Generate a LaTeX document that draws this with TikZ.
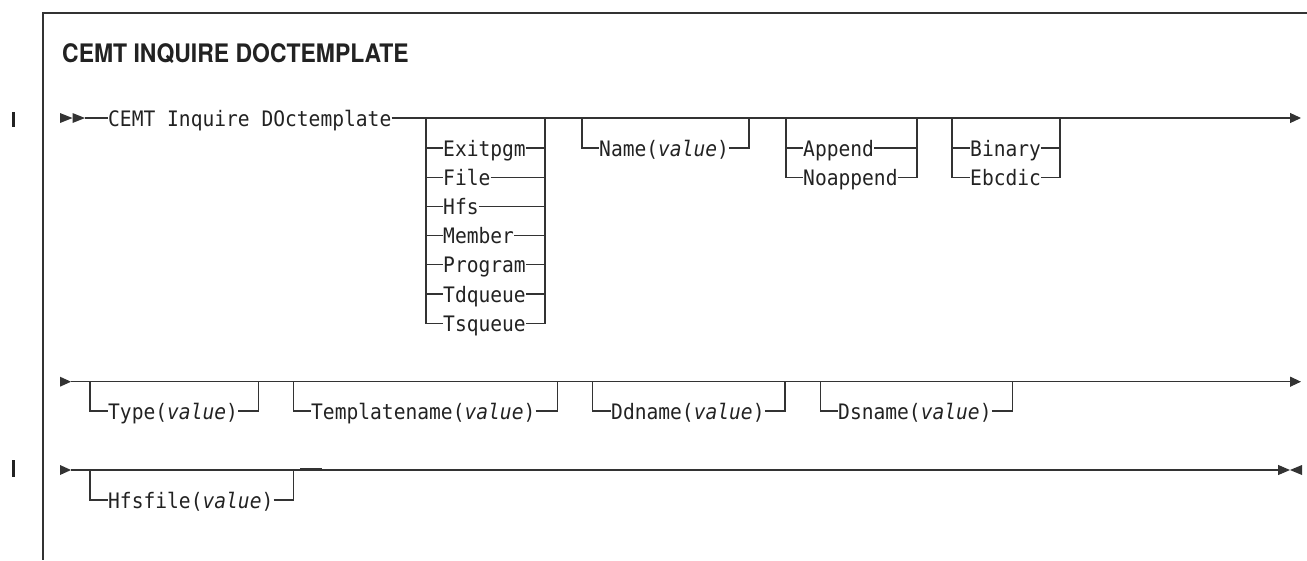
\documentclass[tikz,border=0pt]{standalone}
\usepackage{fontspec}
\newfontfamily\headfamily[FakeStretch=0.9]{TeX Gyre Heros}
\newfontfamily\kwfamily[FakeStretch=0.92]{DejaVu Sans Mono}
\usetikzlibrary{arrows.meta}
\definecolor{ln}{HTML}{333333}
\definecolor{tx}{HTML}{222222}
\begin{document}
\begin{tikzpicture}[x=1pt,y=-1pt,
  kw/.style={font=\kwfamily\fontsize{21.3}{24}\selectfont, inner sep=0pt,
    text height=16pt, text depth=0pt, anchor=west, text=tx},
  rail/.style={draw=ln, line width=1.2pt},
  endtip/.style={rail, -{Triangle[length=11pt,width=10pt]}},
  frame/.style={draw=ln, line width=1.3pt},
  chg/.style={draw=tx, line width=3pt},
  headline/.style={font=\headfamily\bfseries\fontsize{25.5}{30}\selectfont, text=tx,
    inner sep=0pt, anchor=base west},
]
\useasboundingbox (0,0) rectangle (1307,560);

% frame
\coordinate (fTR) at (1307,13);
\coordinate (fTL) at (43,13);
\coordinate (fBL) at (43,560);
\draw[frame] (fTR) -- (fTL) -- (fBL);

% title
\node[headline] (title) at (62,62) {CEMT INQUIRE DOCTEMPLATE};

% change bars
\draw[chg] (13,112) -- (13,127);
\draw[chg] (13,460) -- (13,477);

% ---------------- row 1 ----------------
\coordinate (r1s) at (60,118);
\fill[ln] (r1s) ++(0,-5) -- ++(12.5,5) -- ++(-12.5,5) -- cycle;
\fill[ln] (r1s) ++(12.5,-5) -- ++(12.5,5) -- ++(-12.5,5) -- cycle;
\coordinate (r1a) at (85,118);
\node[kw] (cemt) at (108,118) {CEMT Inquire DOctemplate};
\draw[rail] (r1a) -- (cemt.west);
\coordinate (r1e) at (1301,118);
\draw[endtip] (cemt.east) -- (r1e);

% group 1
\coordinate (g1l) at (426,118);
\coordinate (g1r) at (545,118);
\foreach \w [count=\i from 0] in {Exitpgm,File,Hfs,Member,Program,Tdqueue,Tsqueue}{
  \node[kw] (g1i\i) at (443,148+29.2*\i) {\w};
}
\foreach \i in {0,...,5}{
  \draw[rail] (g1l |- g1i\i.west) -- (g1i\i.west);
  \draw[rail] (g1i\i.east) -- (g1r |- g1i\i.east);
}
\draw[rail] (g1l) -- (g1l |- g1i6.west) -- (g1i6.west);
\draw[rail] (g1i6.east) -- (g1r |- g1i6.east) -- (g1r);

% group 2
\coordinate (g2l) at (582,118);
\coordinate (g2r) at (749,118);
\node[kw] (name) at (599,148) {Name(\textit{value})};
\draw[rail] (g2l) -- (g2l |- name.west) -- (name.west);
\draw[rail] (name.east) -- (g2r |- name.east) -- (g2r);

% group 3
\coordinate (g3l) at (786,118);
\coordinate (g3r) at (917,118);
\node[kw] (app) at (803,148) {Append};
\node[kw] (noapp) at (803,177.2) {Noappend};
\draw[rail] (g3l |- app.west) -- (app.west);
\draw[rail] (app.east) -- (g3r |- app.east);
\draw[rail] (g3l) -- (g3l |- noapp.west) -- (noapp.west);
\draw[rail] (noapp.east) -- (g3r |- noapp.east) -- (g3r);

% group 4
\coordinate (g4l) at (952,118);
\coordinate (g4r) at (1060,118);
\node[kw] (bin) at (970,148) {Binary};
\node[kw] (ebc) at (970,177.2) {Ebcdic};
\draw[rail] (g4l |- bin.west) -- (bin.west);
\draw[rail] (bin.east) -- (g4r |- bin.east);
\draw[rail] (g4l) -- (g4l |- ebc.west) -- (ebc.west);
\draw[rail] (ebc.east) -- (g4r |- ebc.east) -- (g4r);

% ---------------- row 2 ----------------
\coordinate (r2s) at (60,381.7);
\fill[ln] (r2s) ++(0,-5) -- ++(11,5) -- ++(-11,5) -- cycle;
\coordinate (r2a) at (71,381.7);
\coordinate (r2e) at (1301,381.7);
\draw[endtip] (r2a) -- (r2e);

\coordinate (tyl) at (90,381.7);
\coordinate (tyr) at (258.3,381.7);
\node[kw] (type) at (108,411) {Type(\textit{value})};
\draw[rail] (tyl) -- (tyl |- type.west) -- (type.west);
\draw[rail] (type.east) -- (tyr |- type.east) -- (tyr);

\coordinate (tnl) at (293.3,381.7);
\coordinate (tnr) at (557.3,381.7);
\node[kw] (tname) at (311,411) {Templatename(\textit{value})};
\draw[rail] (tnl) -- (tnl |- tname.west) -- (tname.west);
\draw[rail] (tname.east) -- (tnr |- tname.east) -- (tnr);

\coordinate (ddl) at (592.7,381.7);
\coordinate (ddr) at (785,381.7);
\node[kw] (dd) at (611,411) {Ddname(\textit{value})};
\draw[rail] (ddl) -- (ddl |- dd.west) -- (dd.west);
\draw[rail] (dd.east) -- (ddr |- dd.east) -- (ddr);

\coordinate (dsl) at (820.7,381.7);
\coordinate (dsr) at (1012.3,381.7);
\node[kw] (ds) at (838,411) {Dsname(\textit{value})};
\draw[rail] (dsl) -- (dsl |- ds.west) -- (ds.west);
\draw[rail] (ds.east) -- (dsr |- ds.east) -- (dsr);

% ---------------- row 3 ----------------
\coordinate (r3s) at (60,470);
\fill[ln] (r3s) ++(0,-5) -- ++(11,5) -- ++(-11,5) -- cycle;
\coordinate (r3a) at (71,470);
\coordinate (r3e) at (1290,470);
\draw[rail, -{Triangle[length=12pt,width=10pt]}] (r3a) -- (r3e);
\fill[ln] (r3e) -- ++(12,-5) -- ++(0,10) -- cycle;

\coordinate (hfl) at (90,470);
\coordinate (hfr) at (293.3,470);
\node[kw] (hfs) at (108,500) {Hfsfile(\textit{value})};
\draw[rail] (hfl) -- (hfl |- hfs.west) -- (hfs.west);
\draw[rail] (hfs.east) -- (hfr |- hfs.east) -- (hfr);
\draw[draw=ln, line width=2pt] (300,469) -- (322,469);

\end{tikzpicture}
\end{document}
